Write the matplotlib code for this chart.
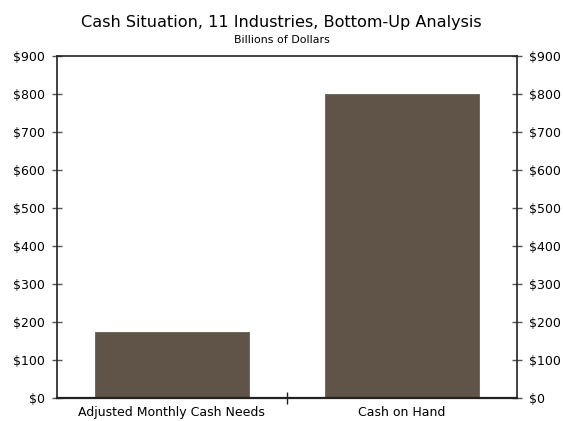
import numpy as np
import matplotlib.pyplot as plt
from matplotlib.ticker import FuncFormatter

categories = ['Adjusted Monthly Cash Needs', 'Cash on Hand']
values = [175, 800]
yticks = np.arange(0, 1000, 100)

fig = plt.figure(figsize=(5.63, 4.21), dpi=100)
ax = fig.add_axes([0.101, 0.0546, 0.817, 0.8124])

x = np.arange(len(categories))
ax.bar(x, values, width=0.67, color='#5f5447', edgecolor='#6a5f53', linewidth=0.6, zorder=2)

ax.set_xlim(-0.5, 1.5)
ax.set_ylim(0, 900)
ax.set_yticks(yticks)
ax.yaxis.set_major_formatter(FuncFormatter(lambda v, p: '$%d' % v))

# category labels sit between the separator ticks
ax.set_xticks([0.5])
ax.set_xticklabels([''])
ax.set_xticks(x, minor=True)
ax.set_xticklabels(categories, minor=True, fontsize=9)
ax.tick_params(axis='x', which='minor', length=0, pad=6)
ax.tick_params(axis='x', which='major', direction='inout', length=8, width=1, color='#222222')

ax.tick_params(axis='y', direction='inout', length=7, width=1, color='#555555',
               labelsize=9, left=True, right=True, labelleft=True, labelright=True, pad=5)

for s in ax.spines.values():
    s.set_color('#222222')
    s.set_linewidth(1.2)
ax.spines['bottom'].set_linewidth(1.6)

fig.text(0.5, 0.935, 'Cash Situation, 11 Industries, Bottom-Up Analysis', ha='center', fontsize=11.6)
fig.text(0.5, 0.898, 'Billions of Dollars', ha='center', fontsize=7.9)

fig.savefig('out.png', dpi=100)
